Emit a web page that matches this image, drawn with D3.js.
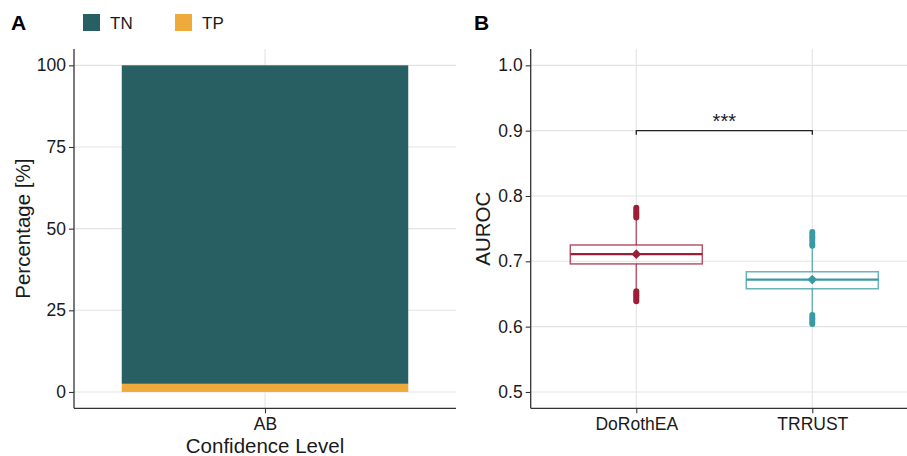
<!DOCTYPE html>
<html>
<head>
<meta charset="utf-8">
<script src="https://cdn.jsdelivr.net/npm/d3@7/dist/d3.min.js"></script>
<style>
  html, body { margin: 0; padding: 0; background: #fff; }
  svg { display: block; }
  text { font-family: "Liberation Sans", Arial, sans-serif; }
</style>
</head>
<body>
<svg id="chart" width="907" height="456"></svg>
<script>
// ---------- DATA ----------
const categories = ["AB"];
const legendKeys = ["TN", "TP"];
const tnValues = [97.5];
const tpValues = [2.5];
const percentTicks = [0, 25, 50, 75, 100];

const methods = ["DoRothEA", "TRRUST"];
const q1Values = [0.696, 0.658];
const medianValues = [0.711, 0.672];
const q3Values = [0.725, 0.684];
const meanValues = [0.711, 0.672];
const whiskerLowValues = [0.657, 0.621];
const whiskerHighValues = [0.765, 0.721];
const outliersDoRothEA = [0.639, 0.642, 0.645, 0.648, 0.651, 0.654, 0.767, 0.770, 0.773, 0.776, 0.779, 0.782];
const outliersTRRUST = [0.604, 0.607, 0.611, 0.614, 0.618, 0.724, 0.727, 0.731, 0.735, 0.738, 0.742, 0.745];
const aurocTicks = [0.5, 0.6, 0.7, 0.8, 0.9, 1.0];
const sigLabel = "***";
const sigY = 0.9;

// ---------- STYLE ----------
const colTN = "#285f63", colTP = "#eeab3b";
const methodColors = ["#9c1f38", "#3a9aa3"];
const gridCol = "#e3e3e3", axisCol = "#333333", textCol = "#1a1a1a";
const tickFont = "17.5px", titleFont = "20.5px";

const svg = d3.select("#chart");

// ---------- PANEL A ----------
const A = {x0: 74, x1: 456, y0: 49, y1: 408.3};
const xA = d3.scalePoint().domain(categories).range([A.x0, A.x1]).padding(0.6);
const yA = d3.scaleLinear().domain([-5, 105]).range([A.y1, A.y0]);
const stepA = xA.step();

const gA = svg.append("g");
gA.selectAll(".hg").data(percentTicks).join("line")
  .attr("x1", A.x0).attr("x2", A.x1)
  .attr("y1", d => yA(d)).attr("y2", d => yA(d))
  .attr("stroke", gridCol).attr("stroke-width", 1.1);
gA.selectAll(".vg").data(categories).join("line")
  .attr("x1", d => xA(d)).attr("x2", d => xA(d))
  .attr("y1", A.y0).attr("y2", A.y1)
  .attr("stroke", gridCol).attr("stroke-width", 1.1);

const stackData = categories.map((c, i) => ({cat: c, TP: tpValues[i], TN: tnValues[i]}));
const stacked = d3.stack().keys(["TP", "TN"])(stackData);
const fillFor = {TN: colTN, TP: colTP};
stacked.forEach(layer => {
  gA.selectAll(null).data(layer).join("rect")
    .attr("x", d => xA(d.data.cat) - stepA * 0.45)
    .attr("width", stepA * 0.9)
    .attr("y", d => yA(d[1]))
    .attr("height", d => yA(d[0]) - yA(d[1]))
    .attr("fill", fillFor[layer.key]);
});

const axA_y = gA.append("g").attr("transform", `translate(${A.x0},0)`)
  .call(d3.axisLeft(yA).tickValues(percentTicks).tickSize(5).tickPadding(3));
const axA_x = gA.append("g").attr("transform", `translate(0,${A.y1})`)
  .call(d3.axisBottom(xA).tickSize(5).tickPadding(4));
[axA_y, axA_x].forEach(ax => {
  ax.select(".domain").remove();
  ax.selectAll(".tick line").attr("stroke", axisCol).attr("stroke-width", 1.1);
  ax.selectAll(".tick text").attr("fill", textCol).style("font-size", tickFont)
    .style("font-family", "'Liberation Sans', Arial, sans-serif");
});
gA.append("line").attr("x1", A.x0).attr("x2", A.x0).attr("y1", A.y0).attr("y2", A.y1)
  .attr("stroke", axisCol).attr("stroke-width", 1.3);
gA.append("line").attr("x1", A.x0).attr("x2", A.x1).attr("y1", A.y1).attr("y2", A.y1)
  .attr("stroke", axisCol).attr("stroke-width", 1.3);

gA.append("text").attr("x", (A.x0 + A.x1) / 2).attr("y", 453)
  .attr("text-anchor", "middle").attr("fill", textCol).style("font-size", titleFont)
  .text("Confidence Level");
gA.append("text").attr("transform", `translate(29.5,${(A.y0 + A.y1) / 2}) rotate(-90)`)
  .attr("text-anchor", "middle").attr("fill", textCol).style("font-size", titleFont)
  .text("Percentage [%]");

const legX = [83, 175];
legendKeys.forEach((k, i) => {
  svg.append("rect").attr("x", legX[i]).attr("y", 14).attr("width", 17).attr("height", 17)
    .attr("fill", fillFor[k]);
  svg.append("text").attr("x", legX[i] + 27).attr("y", 28.5).attr("fill", textCol)
    .style("font-size", "17px").text(k);
});

svg.append("text").attr("x", 11).attr("y", 30).attr("fill", "#000")
  .style("font-size", "21px").style("font-weight", "bold").text("A");

// ---------- PANEL B ----------
const B = {x0: 530.7, x1: 917.9, y0: 49, y1: 408.3};
const xB = d3.scalePoint().domain(methods).range([B.x0, B.x1]).padding(0.6);
const yB = d3.scaleLinear().domain([0.475, 1.025]).range([B.y1, B.y0]);
const stepB = xB.step();
const gB = svg.append("g");

gB.selectAll(".hg").data(aurocTicks).join("line")
  .attr("x1", B.x0).attr("x2", B.x1)
  .attr("y1", d => yB(d)).attr("y2", d => yB(d))
  .attr("stroke", gridCol).attr("stroke-width", 1.1);
gB.selectAll(".vg").data(methods).join("line")
  .attr("x1", d => xB(d)).attr("x2", d => xB(d))
  .attr("y1", B.y0).attr("y2", B.y1)
  .attr("stroke", gridCol).attr("stroke-width", 1.1);

const outlierSets = [outliersDoRothEA, outliersTRRUST];
methods.forEach((m, i) => {
  const cx = xB(m), col = methodColors[i], hw = stepB * 0.375;
  gB.append("line").attr("x1", cx).attr("x2", cx)
    .attr("y1", yB(q3Values[i])).attr("y2", yB(whiskerHighValues[i]))
    .attr("stroke", col).attr("stroke-opacity", 0.7).attr("stroke-width", 1.5);
  gB.append("line").attr("x1", cx).attr("x2", cx)
    .attr("y1", yB(q1Values[i])).attr("y2", yB(whiskerLowValues[i]))
    .attr("stroke", col).attr("stroke-opacity", 0.7).attr("stroke-width", 1.5);
  gB.append("rect").attr("x", cx - hw).attr("width", hw * 2)
    .attr("y", yB(q3Values[i])).attr("height", yB(q1Values[i]) - yB(q3Values[i]))
    .attr("fill", "none").attr("stroke", col).attr("stroke-opacity", 0.75).attr("stroke-width", 1.5);
  gB.append("line").attr("x1", cx - hw).attr("x2", cx + hw)
    .attr("y1", yB(medianValues[i])).attr("y2", yB(medianValues[i]))
    .attr("stroke", col).attr("stroke-width", 2.2);
  gB.selectAll(null).data(outlierSets[i]).join("circle")
    .attr("cx", cx).attr("cy", d => yB(d)).attr("r", 3)
    .attr("fill", col);
  const my = yB(meanValues[i]), s = 4.8;
  gB.append("path").attr("d", `M${cx},${my - s}L${cx + s},${my}L${cx},${my + s}L${cx - s},${my}Z`)
    .attr("fill", col);
});

const sy = yB(sigY), sx1 = xB(methods[0]), sx2 = xB(methods[1]);
gB.append("path").attr("d", `M${sx1},${sy + 4}V${sy}H${sx2}V${sy + 4}`)
  .attr("fill", "none").attr("stroke", "#222").attr("stroke-width", 1.3);
gB.append("text").attr("x", (sx1 + sx2) / 2).attr("y", sy - 3)
  .attr("text-anchor", "middle").attr("fill", "#222").style("font-size", "20px").text(sigLabel);

const axB_y = gB.append("g").attr("transform", `translate(${B.x0},0)`)
  .call(d3.axisLeft(yB).tickValues(aurocTicks).tickFormat(d3.format(".1f")).tickSize(5).tickPadding(3));
const axB_x = gB.append("g").attr("transform", `translate(0,${B.y1})`)
  .call(d3.axisBottom(xB).tickSize(5).tickPadding(4));
[axB_y, axB_x].forEach(ax => {
  ax.select(".domain").remove();
  ax.selectAll(".tick line").attr("stroke", axisCol).attr("stroke-width", 1.1);
  ax.selectAll(".tick text").attr("fill", textCol).style("font-size", tickFont)
    .style("font-family", "'Liberation Sans', Arial, sans-serif");
});
gB.append("line").attr("x1", B.x0).attr("x2", B.x0).attr("y1", B.y0).attr("y2", B.y1)
  .attr("stroke", axisCol).attr("stroke-width", 1.3);
gB.append("line").attr("x1", B.x0).attr("x2", B.x1).attr("y1", B.y1).attr("y2", B.y1)
  .attr("stroke", axisCol).attr("stroke-width", 1.3);

gB.append("text").attr("transform", `translate(489.5,${(B.y0 + B.y1) / 2}) rotate(-90)`)
  .attr("text-anchor", "middle").attr("fill", textCol).style("font-size", titleFont)
  .text("AUROC");

svg.append("text").attr("x", 474).attr("y", 30).attr("fill", "#000")
  .style("font-size", "21px").style("font-weight", "bold").text("B");
</script>
</body>
</html>
